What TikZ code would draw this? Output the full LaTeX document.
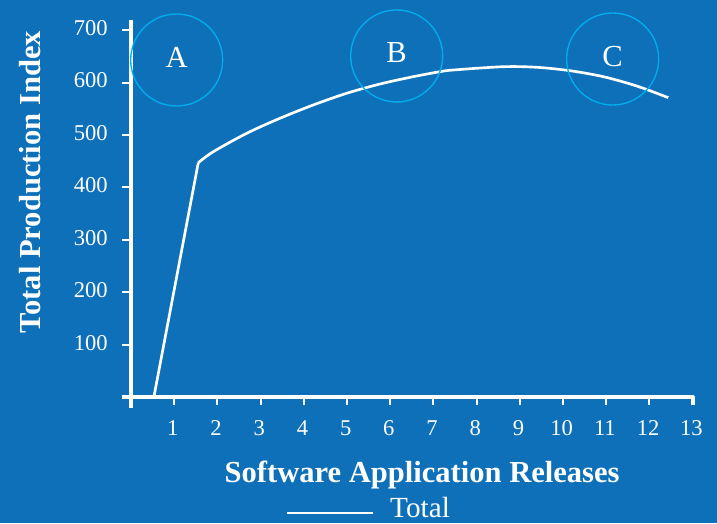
\documentclass[tikz,border=0pt]{standalone}
\usepackage{fontspec}
\setmainfont{Liberation Serif}
\definecolor{bgblue}{RGB}{14,112,184}
\definecolor{ringcyan}{RGB}{0,174,239}
\begin{document}
\begin{tikzpicture}[x=1.143cm, y=1.3865cm, line join=round, white, font=\fontsize{17}{20}\selectfont,
	ring/.style={circle, draw=ringcyan, line width=1pt, minimum size=2.434cm, inner sep=0pt, text depth=4.5pt, font=\fontsize{23}{26}\selectfont},
	axtitle/.style={font=\fontsize{23}{26}\selectfont\bfseries, inner sep=0pt, anchor=base},
	xlbl/.style={anchor=base, inner sep=0pt},
	ylbl/.style={anchor=east, inner sep=0pt, yshift=1.5pt}]
	\fill[bgblue](-3.032,-2.405)rectangle(13.565,7.576);
	\useasboundingbox(-3.032,-2.405)rectangle(13.565,7.576);
	% axes
	\draw[line width=3pt](0,7.195)--(0,-0.21);
	\draw[line width=3pt](-0.21,0)--(13,0)--(13,-0.153);
	\draw[line width=1.6pt]
	(1,0)--(1,-0.153) (2,0)--(2,-0.153) (3,0)--(3,-0.153) (4,0)--(4,-0.153)
	(5,0)--(5,-0.153) (6,0)--(6,-0.153) (7,0)--(7,-0.153) (8,0)--(8,-0.153)
	(9,0)--(9,-0.153) (10,0)--(10,-0.153) (11,0)--(11,-0.153) (12,0)--(12,-0.153)
	(-0.21,1)--(0,1) (-0.21,2)--(0,2) (-0.21,3)--(0,3) (-0.21,4)--(0,4)
	(-0.21,5)--(0,5) (-0.21,6)--(0,6) (-0.21,7)--(0,7)
	;
	\draw
	(0.97,-0.725)node(x1)[xlbl]{1}
	(1.97,-0.725)node(x2)[xlbl]{2}
	(2.97,-0.725)node(x3)[xlbl]{3}
	(3.97,-0.725)node(x4)[xlbl]{4}
	(4.97,-0.725)node(x5)[xlbl]{5}
	(5.97,-0.725)node(x6)[xlbl]{6}
	(6.97,-0.725)node(x7)[xlbl]{7}
	(7.97,-0.725)node(x8)[xlbl]{8}
	(8.97,-0.725)node(x9)[xlbl]{9}
	(9.97,-0.725)node(x10)[xlbl]{10}
	(10.97,-0.725)node(x11)[xlbl]{11}
	(11.97,-0.725)node(x12)[xlbl]{12}
	(12.97,-0.725)node(x13)[xlbl]{13}
	(-0.532,1)node(y1)[ylbl]{100}
	(-0.532,2)node(y2)[ylbl]{200}
	(-0.532,3)node(y3)[ylbl]{300}
	(-0.532,4)node(y4)[ylbl]{400}
	(-0.532,5)node(y5)[ylbl]{500}
	(-0.532,6)node(y6)[ylbl]{600}
	(-0.532,7)node(y7)[ylbl]{700}
	;
	\node(xtitle)[axtitle] at (6.74,-1.622){Software Application Releases};
	\node(ytitle)[axtitle, rotate=90] at (-2.106,4.10){Total Production Index};
	% total curve
	\draw[line width=2pt](0.53,0)--(1.558,4.471);
	\draw[line width=2pt, smooth]plot coordinates{(1.558,4.471)(1.905,4.681)(2.678,5.032)(3.449,5.319)(4.220,5.573)(4.993,5.796)(5.764,5.973)(6.535,6.113)(7.153,6.208)(7.461,6.240)(8.618,6.303)(9.391,6.292)(10.162,6.227)(10.933,6.113)(11.706,5.935)(12.438,5.712)};
	% zones
	\node(zoneA)[ring] at (1.058,6.431){A};
	\node(zoneB)[ring] at (6.150,6.508){B};
	\node(zoneC)[ring] at (11.150,6.450){C};
	% legend
	\coordinate(legL) at (3.61,-2.214);
	\coordinate(legR) at (5.602,-2.214);
	\draw[line width=1.5pt](legL)--(legR);
	\node(legtxt)[anchor=base west, inner sep=0pt, font=\fontsize{22}{26}\selectfont] at (5.995,-2.29){Total};
\end{tikzpicture}
\end{document}
